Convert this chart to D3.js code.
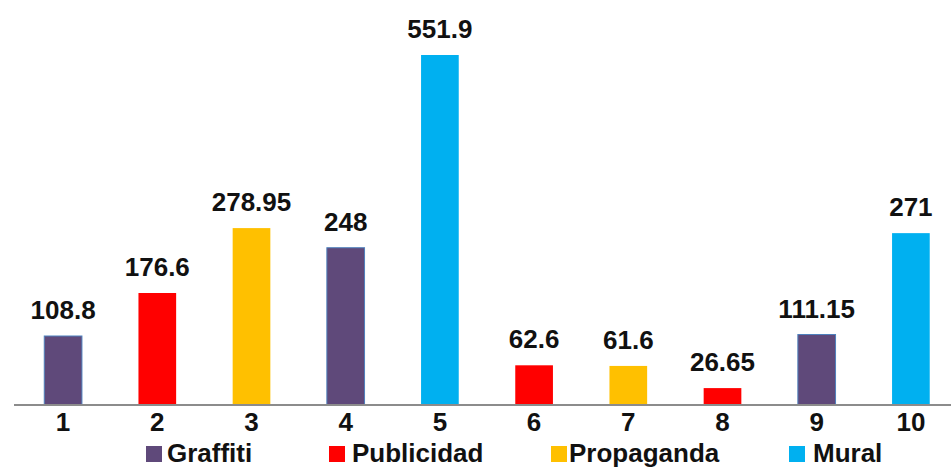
<!DOCTYPE html>
<html>
<head>
<meta charset="utf-8">
<script src="https://cdn.jsdelivr.net/npm/d3@7"></script>
<style>
  html, body { margin: 0; padding: 0; background: #ffffff; }
  svg { display: block; }
  text { font-family: "Liberation Sans", Arial, sans-serif; font-weight: bold; fill: #111; }
</style>
</head>
<body>
<svg id="chart" width="951" height="468"></svg>
<script>
// Categories, values and the type of each wall
const categories = ["1", "2", "3", "4", "5", "6", "7", "8", "9", "10"];
const values = [108.8, 176.6, 278.95, 248, 551.9, 62.6, 61.6, 26.65, 111.15, 271];
const valueLabels = ["108.8", "176.6", "278.95", "248", "551.9", "62.6", "61.6", "26.65", "111.15", "271"];
const types = ["Graffiti", "Publicidad", "Propaganda", "Graffiti", "Mural", "Publicidad", "Propaganda", "Publicidad", "Graffiti", "Mural"];
const legendNames = ["Graffiti", "Publicidad", "Propaganda", "Mural"];
const legendColors = ["#5f497a", "#ff0000", "#ffc000", "#00b0f0"];

const svg = d3.select("#chart");
const baseline = 405;

const x = d3.scaleBand().domain(categories).range([16, 958]).paddingInner(0.6).paddingOuter(0.3);
const y = d3.scaleLinear().domain([0, 551.9]).range([baseline, 55]);
const color = d3.scaleOrdinal().domain(legendNames).range(legendColors);

// bars
svg.append("g").selectAll("rect")
  .data(categories)
  .join("rect")
  .attr("x", (d) => x(d))
  .attr("width", x.bandwidth())
  .attr("y", (d, i) => y(values[i]))
  .attr("height", (d, i) => baseline - y(values[i]))
  .attr("fill", (d, i) => color(types[i]))
  .attr("stroke", (d, i) => types[i] === "Graffiti" ? "#4f81bd" : "none")
  .attr("stroke-width", 1);

// value labels
svg.append("g").selectAll("text")
  .data(categories)
  .join("text")
  .attr("x", (d) => x(d) + x.bandwidth() / 2)
  .attr("y", (d, i) => y(values[i]) - 17)
  .attr("text-anchor", "middle")
  .style("font-size", "26px")
  .text((d, i) => valueLabels[i]);

// category axis
const axis = svg.append("g")
  .attr("transform", `translate(0,${baseline})`)
  .call(d3.axisBottom(x).tickSize(0).tickPadding(8));
axis.select(".domain").attr("stroke", "#8c8c8c").attr("stroke-width", 2).attr("d", "M14,0H951");
axis.selectAll(".tick text")
  .style("font-size", "26px")
  .style("font-family", "Liberation Sans, Arial, sans-serif")
  .style("font-weight", "bold")
  .attr("fill", "#111")
  .attr("dy", "0.71em");

// legend
const legendSquareX = [146, 329, 551, 789];
const legendTextX = [167, 352, 569, 813];
const legend = svg.append("g").selectAll("g")
  .data(legendNames)
  .join("g");
legend.append("rect")
  .attr("x", (d, i) => legendSquareX[i])
  .attr("y", 446).attr("width", 16).attr("height", 16)
  .attr("fill", (d) => color(d));
legend.append("text")
  .attr("x", (d, i) => legendTextX[i])
  .attr("y", 462)
  .style("font-size", "26px")
  .text((d) => d);
</script>
</body>
</html>
